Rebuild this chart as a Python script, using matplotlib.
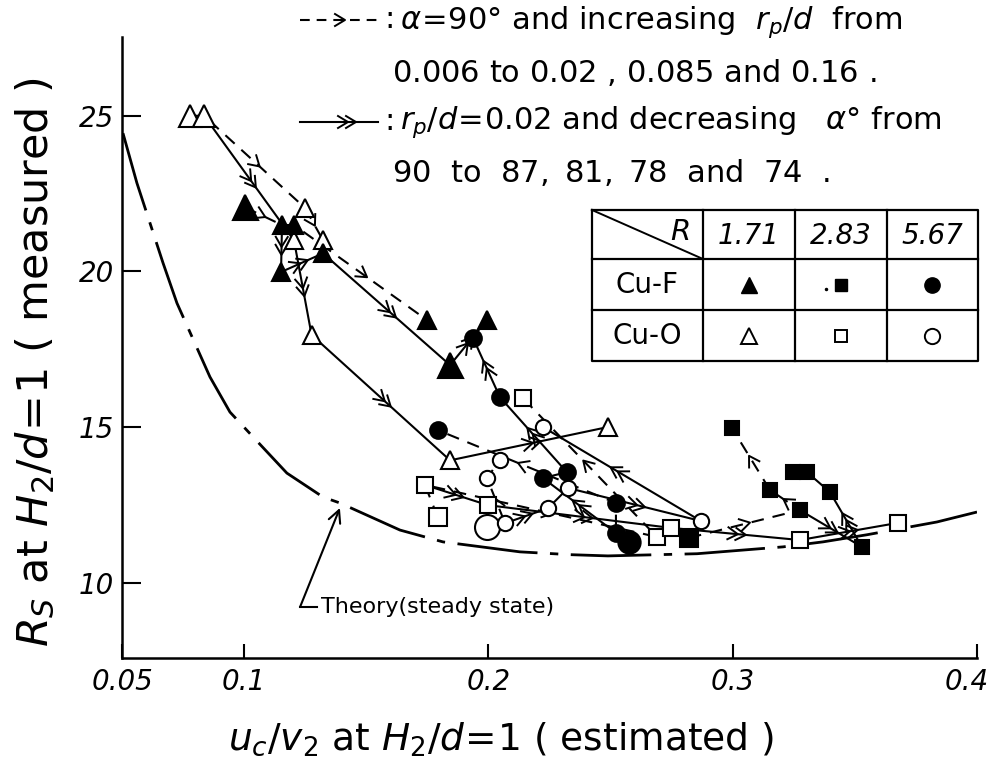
import matplotlib
matplotlib.use("Agg")
import matplotlib.pyplot as plt
from matplotlib.transforms import ScaledTranslation
import numpy as np

plt.rcParams['font.family'] = ['DejaVu Sans']
plt.rcParams['lines.scale_dashes'] = False

# steady-state theory curve
theory_u = [0.0504, 0.0561, 0.0668, 0.0725, 0.086, 0.0942, 0.1057, 0.1175, 0.1323,
            0.1392, 0.1638, 0.1814, 0.2129, 0.2334, 0.2489, 0.2854, 0.3206, 0.3369,
            0.355, 0.3836, 0.40]
theory_r = [24.44, 22.84, 20.27, 18.98, 16.61, 15.48, 14.51, 13.52, 12.75,
            12.56, 11.69, 11.31, 10.99, 10.90, 10.86, 10.93, 11.15, 11.31,
            11.54, 11.95, 12.27]

# each run: rp/d = 0.006, 0.02, 0.085, 0.16 (alpha=90), then alpha = 87, 81, 78, 74 (rp/d=0.02)
cuo_171_u = [0.0778, 0.0836, 0.1249, 0.1323, 0.1204, 0.1276, 0.1843, 0.2489]
cuo_171_r = [25.0, 25.0, 22.04, 21.0, 21.0, 17.96, 13.93, 15.0]
cuf_171_u = [0.1003, 0.1155, 0.1204, 0.1748, 0.1151, 0.1323, 0.1843, 0.1994]
cuf_171_r = [22.06, 21.49, 21.49, 18.44, 19.98, 20.58, 16.99, 18.44]
cuf_283_u = [0.2821, 0.3275, 0.3152, 0.2997, 0.3529, 0.3398, 0.3304, 0.3247]
cuf_283_r = [11.44, 12.33, 12.98, 14.97, 11.15, 12.91, 13.55, 13.55]
cuo_283_u = [0.1793, 0.174, 0.269, 0.2141, 0.1998, 0.2747, 0.3275, 0.3676]
cuo_283_r = [12.1, 13.14, 11.47, 15.93, 12.49, 11.76, 11.37, 11.92]
cuf_567_u = [0.2575, 0.2522, 0.2522, 0.1793, 0.2223, 0.2321, 0.2047, 0.1937]
cuf_567_r = [11.31, 11.6, 12.56, 14.90, 13.36, 13.55, 15.96, 17.86]
cuo_567_u = [0.1994, 0.2068, 0.1994, 0.2047, 0.2244, 0.2326, 0.287, 0.2223]
cuo_567_r = [11.79, 11.91, 13.36, 13.94, 12.39, 13.04, 11.98, 15.0]

rp_run = [0, 1, 2, 3]
alpha_run = [1, 4, 5, 6, 7]

u_ticks = [0.05, 0.1, 0.2, 0.3, 0.4]
u_labels = ['0.05', '0.1', '0.2', '0.3', '0.4']
r_ticks = [10, 15, 20, 25]

R_values = ['1.71', '2.83', '5.67']

# marker, fill, normal size, big size, indices drawn big
groups = [
    (cuo_171_u, cuo_171_r, '^', 'white', 13, 16, [0, 1]),
    (cuf_171_u, cuf_171_r, '^', 'black', 13, 18, [0, 6]),
    (cuf_283_u, cuf_283_r, 's', 'black', 10, 13, [0]),
    (cuo_283_u, cuo_283_r, 's', 'white', 11, 13, [0]),
    (cuf_567_u, cuf_567_r, 'o', 'black', 12, 16, [0]),
    (cuo_567_u, cuo_567_r, 'o', 'white', 11, 18, [0]),
]


def chevrons(ax, xs, ys, count, min_len=35, frac=0.55):
    pts = ax.transData.transform(np.column_stack([xs, ys]))
    inv = ax.transData.inverted()
    for p0, p1 in zip(pts[:-1], pts[1:]):
        d = p1 - p0
        L = np.hypot(*d)
        if L < min_len:
            continue
        t = d / L
        n = np.array([-t[1], t[0]])
        mid = p0 + frac * d
        for k in range(count):
            tip = mid + t * (k * 8 - (count - 1) * 4)
            v = np.array([tip - t * 10 + n * 6, tip, tip - t * 10 - n * 6])
            seg = inv.transform(v)
            ax.plot(seg[:, 0], seg[:, 1], color='k', lw=1.4, zorder=2)


fig = plt.figure(figsize=(9.97, 7.69), dpi=100)
ax = fig.add_axes([122 / 997, 1 - 658 / 769, (977 - 122) / 997, (658 - 36.7) / 769])
ax.set_xlim(0.05, 0.4)
ax.set_ylim(7.58, 27.54)
ax.spines[['top', 'right']].set_visible(False)
for s in ['left', 'bottom']:
    ax.spines[s].set_linewidth(1.8)
ax.set_xticks(u_ticks)
ax.set_xticklabels(u_labels, fontstyle='italic', fontsize=20)
ax.set_yticks(r_ticks)
ax.set_yticklabels([str(v) for v in r_ticks], fontstyle='italic', fontsize=20)
ax.tick_params(axis='x', direction='in', length=10, width=1.5, pad=7)
ax.tick_params(axis='y', direction='in', length=14, width=1.5, pad=6)
last = ax.get_xticklabels()[-1]
last.set_transform(last.get_transform() + ScaledTranslation(-0.1, 0, fig.dpi_scale_trans))

ax.set_xlabel(r'$u_c/v_2$ at $H_2/d\!=\!\mathit{1}$ ( estimated )', fontsize=27)
ax.xaxis.set_label_coords(0.443, -0.1)
ax.set_ylabel(r'$R_S$ at $H_2/d\!=\!\mathit{1}$ ( measured )', fontsize=31)
ax.yaxis.set_label_coords(-0.076, 0.476)

# theory
ax.plot(theory_u, theory_r, color='k', lw=2, dashes=(58, 9, 6, 9), zorder=1)
ax.annotate('', xy=(0.1392, 12.4), xytext=(0.1229, 9.22),
            arrowprops=dict(arrowstyle='->', color='k', lw=1.5, mutation_scale=22,
                            shrinkA=0, shrinkB=0))
ax.plot([0.1229, 0.1298], [9.22, 9.22], color='k', lw=1.5)
ax.text(0.1315, 9.22, 'Theory(steady state)', fontsize=16, va='center', ha='left')

for u, r, mk, fc, ms, ms_big, big in groups:
    u = np.array(u)
    r = np.array(r)
    ax.plot(u[rp_run], r[rp_run], color='k', lw=1.5, dashes=(9, 6.5), zorder=2)
    chevrons(ax, u[rp_run], r[rp_run], 1)
    ax.plot(u[alpha_run], r[alpha_run], color='k', lw=1.5, zorder=2)
    chevrons(ax, u[alpha_run], r[alpha_run], 2)
    for i in range(len(u)):
        size = ms_big if i in big else ms
        ax.plot(u[i], r[i], marker=mk, ms=size, mfc=fc, mec='k', mew=1.5,
                ls='none', zorder=3)

# overlay in pixel units for the key and the table
ov = fig.add_axes([0, 0, 1, 1])
ov.set_xlim(0, 997)
ov.set_ylim(769, 0)
ov.axis('off')

ov.plot([300, 378], [20, 20], color='k', lw=1.5, dashes=(7, 5))
chevrons(ov, [300, 345], [20, 20], 1, min_len=5, frac=1.0)
ov.text(384, 20, ':', fontsize=22, va='center')
ov.text(400, 22, r'$\alpha\!=\!\mathit{90}$° and increasing  $r_p/d$  from', fontsize=22, va='center')
ov.text(392, 72, r'$\mathit{0.006}$ to $\mathit{0.02}$ , $\mathit{0.085}$ and $\mathit{0.16}$ .',
        fontsize=22, va='center')
ov.plot([300, 378], [122, 122], color='k', lw=1.5)
chevrons(ov, [300, 352], [122, 122], 2, min_len=5, frac=1.0)
ov.text(384, 122, ':', fontsize=22, va='center')
ov.text(400, 122, r'$r_p/d\!=\!\mathit{0.02}$ and decreasing   $\alpha$° from',
        fontsize=22, va='center')
ov.text(392, 172, r'$\mathit{90}$  to  $\mathit{87},$ $\mathit{81},$ $\mathit{78}$  and  $\mathit{74}$  .',
        fontsize=22, va='center')

# symbol table
tl, tr, tt, tb = 592, 978, 210, 361
row_y = [259, 310]
col_x = [703, 795, 887]
ov.plot([tl, tr, tr, tl, tl], [tt, tt, tb, tb, tt], color='k', lw=1.6)
for y in row_y:
    ov.plot([tl, tr], [y, y], color='k', lw=1.6)
for x in col_x:
    ov.plot([x, x], [tt, tb], color='k', lw=1.6)
ov.plot([tl, col_x[0]], [tt, row_y[0]], color='k', lw=1.4)
ov.text(690, 232, 'R', fontsize=21, fontstyle='italic', ha='right', va='center')
centers = [749, 841, 932]
for cx, lab in zip(centers, R_values):
    ov.text(cx, 236, lab, fontsize=20, fontstyle='italic', ha='center', va='center')
ov.text(647, 285, 'Cu-F', fontsize=20, ha='center', va='center')
ov.text(647, 336, 'Cu-O', fontsize=20, ha='center', va='center')
for cx, mk in zip(centers, ['^', 's', 'o']):
    ov.plot(cx, 285, marker=mk, ms=11 if mk != 's' else 9, mfc='k', mec='k', ls='none')
    ov.plot(cx, 336, marker=mk, ms=11 if mk != 's' else 9, mfc='white', mec='k', mew=1.4, ls='none')
ov.plot(826, 289, marker='.', ms=3, color='k')

fig.savefig('out.png', dpi=100)
